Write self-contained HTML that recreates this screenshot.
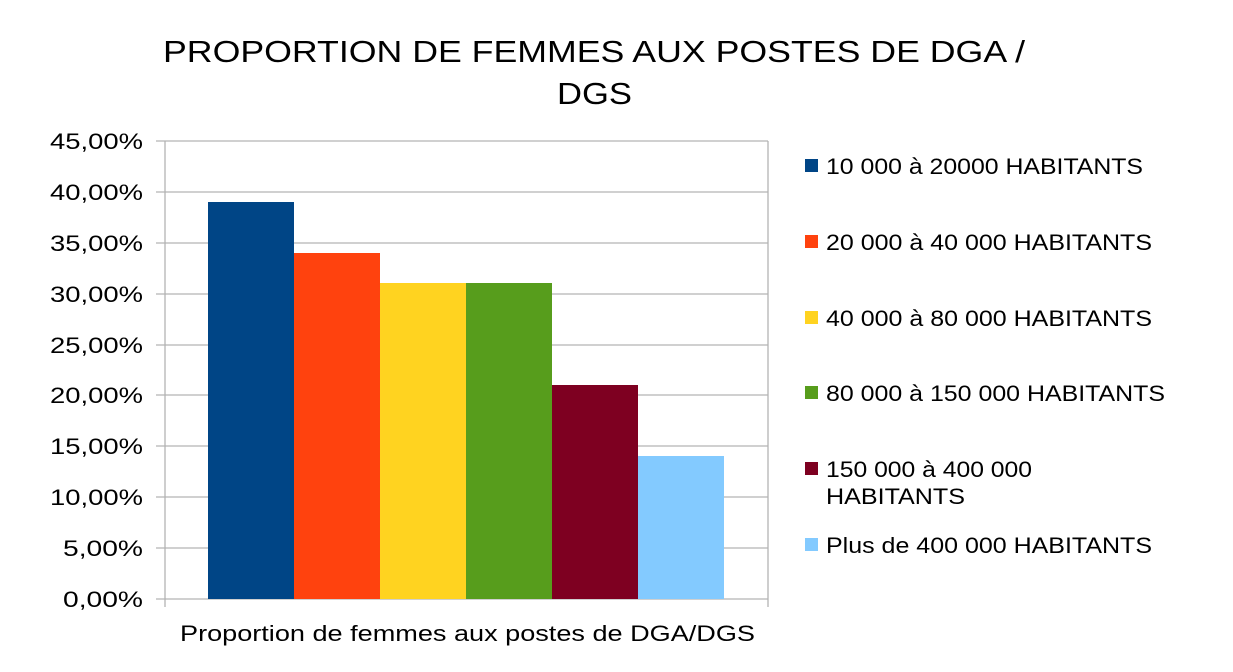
<!DOCTYPE html>
<html><head><meta charset="utf-8"><style>
body{margin:0;background:#fff;}
svg text{font-family:"Liberation Sans",Arial,sans-serif;fill:#000;}
</style></head><body>
<svg width="1233" height="667" xmlns="http://www.w3.org/2000/svg">
<rect width="1233" height="667" fill="#fff"/>
<text x="163" y="62" font-size="31" textLength="862" lengthAdjust="spacingAndGlyphs">PROPORTION  DE FEMMES AUX POSTES DE DGA /</text>
<text x="557" y="104" font-size="31" textLength="75" lengthAdjust="spacingAndGlyphs">DGS</text>
<g stroke="#b3b3b3" stroke-width="1.3">
<line x1="156" y1="141" x2="768" y2="141"/>
<line x1="156" y1="192" x2="768" y2="192"/>
<line x1="156" y1="243" x2="768" y2="243"/>
<line x1="156" y1="294" x2="768" y2="294"/>
<line x1="156" y1="345" x2="768" y2="345"/>
<line x1="156" y1="395" x2="768" y2="395"/>
<line x1="156" y1="446" x2="768" y2="446"/>
<line x1="156" y1="497" x2="768" y2="497"/>
<line x1="156" y1="548" x2="768" y2="548"/>
<line x1="156" y1="599" x2="768" y2="599"/>
<line x1="165" y1="141" x2="165" y2="607"/>
<line x1="768" y1="141" x2="768" y2="607"/>
</g>
<rect x="208" y="202" width="86" height="397" fill="#004586"/>
<rect x="294" y="253" width="86" height="346" fill="#ff420e"/>
<rect x="380" y="283" width="86" height="316" fill="#ffd320"/>
<rect x="466" y="283" width="86" height="316" fill="#579d1c"/>
<rect x="552" y="385" width="86" height="214" fill="#7e0021"/>
<rect x="638" y="456" width="86" height="143" fill="#83caff"/>
<g font-size="22" lengthAdjust="spacingAndGlyphs">
<text x="50" y="149" textLength="93" lengthAdjust="spacingAndGlyphs">45,00%</text>
<text x="50" y="200" textLength="93" lengthAdjust="spacingAndGlyphs">40,00%</text>
<text x="50" y="251" textLength="93" lengthAdjust="spacingAndGlyphs">35,00%</text>
<text x="50" y="302" textLength="93" lengthAdjust="spacingAndGlyphs">30,00%</text>
<text x="50" y="353" textLength="93" lengthAdjust="spacingAndGlyphs">25,00%</text>
<text x="50" y="403" textLength="93" lengthAdjust="spacingAndGlyphs">20,00%</text>
<text x="50" y="454" textLength="93" lengthAdjust="spacingAndGlyphs">15,00%</text>
<text x="50" y="505" textLength="93" lengthAdjust="spacingAndGlyphs">10,00%</text>
<text x="63" y="556" textLength="80" lengthAdjust="spacingAndGlyphs">5,00%</text>
<text x="63" y="607" textLength="80" lengthAdjust="spacingAndGlyphs">0,00%</text>
</g>
<text x="180" y="641" font-size="22" textLength="575" lengthAdjust="spacingAndGlyphs">Proportion de femmes aux postes de DGA/DGS</text>
<g font-size="22">
<rect x="805" y="159" width="13" height="13" fill="#004586"/><text x="826" y="174" textLength="317" lengthAdjust="spacingAndGlyphs">10 000 à 20000 HABITANTS</text>
<rect x="805" y="235" width="13" height="13" fill="#ff420e"/><text x="826" y="250" textLength="326" lengthAdjust="spacingAndGlyphs">20 000 à 40 000 HABITANTS</text>
<rect x="805" y="311" width="13" height="13" fill="#ffd320"/><text x="826" y="326" textLength="326" lengthAdjust="spacingAndGlyphs">40 000 à 80 000 HABITANTS</text>
<rect x="805" y="386" width="13" height="13" fill="#579d1c"/><text x="826" y="401" textLength="339" lengthAdjust="spacingAndGlyphs">80 000 à 150 000 HABITANTS</text>
<rect x="805" y="462" width="13" height="13" fill="#7e0021"/><text x="826" y="477" textLength="206" lengthAdjust="spacingAndGlyphs">150 000 à 400 000</text><text x="826" y="504" textLength="139" lengthAdjust="spacingAndGlyphs">HABITANTS</text>
<rect x="805" y="538" width="13" height="13" fill="#83caff"/><text x="826" y="553" textLength="326" lengthAdjust="spacingAndGlyphs">Plus de 400 000 HABITANTS</text>
</g>
</svg>
</body></html>
